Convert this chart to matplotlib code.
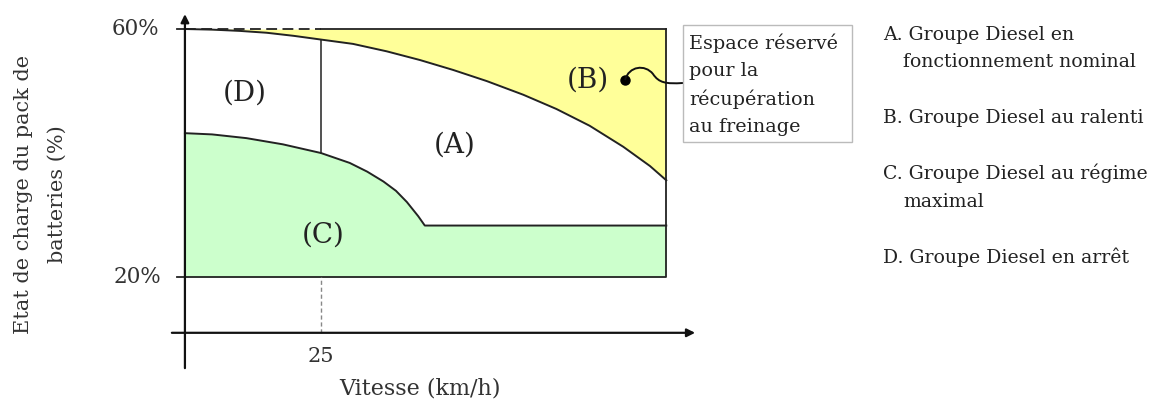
import numpy as np
import matplotlib
matplotlib.use("Agg")
import matplotlib.pyplot as plt
from matplotlib.path import Path
from matplotlib.patches import PathPatch, Rectangle

# valeurs (vitesse en km/h, etat de charge en %)
soc_max = 60
soc_min = 20
v_arret = 25
v_max = 88.5
soc_axe_x = 11

# frontiere (A)/(B) : recuperation au freinage
frein_v = [0, 5, 10, 15, 20, 25, 30.9, 37.1, 43.2, 49.3, 55.5, 62.2, 68.3, 74.4, 80.6, 85.5, 88.5]
frein_soc = [60, 59.9, 59.7, 59.4, 58.9, 58.3, 57.6, 56.4, 55.0, 53.4, 51.6, 49.4, 47.1, 44.4,
             41.0, 37.9, 35.6]

# frontiere (A)/(C) : regime maximal
maxi_v = [0, 5, 11.3, 18, 25, 30.3, 33.5, 36.5, 38.8, 40.8, 42.9, 44.1, 88.5]
maxi_soc = [43.2, 43.0, 42.4, 41.4, 40.0, 38.4, 37.0, 35.4, 33.9, 32.1, 29.8, 28.3, 28.3]

zones = ["(A)", "(B)", "(C)", "(D)"]
legende = ["A. Groupe Diesel en\nfonctionnement nominal",
           "B. Groupe Diesel au ralenti",
           "C. Groupe Diesel au régime\nmaximal",
           "D. Groupe Diesel en arrêt"]
note = "Espace réservé\npour la\nrécupération\nau freinage"

plt.rcParams['font.family'] = ['DejaVu Serif']
W, H = 1152, 401
fig = plt.figure(figsize=(W/100, H/100), dpi=100)
ax = fig.add_axes([0, 0, 1, 1])
ax.set_xlim(-34.0, 177.8)
ax.set_ylim(0, 64.68)
ax.axis('off')

def px(x, y):
    return x / W, 1 - y / H

jaune = '#ffff99'
vert = '#ccffcc'
trait = '#222222'

# zones colorees
ax.fill_between(maxi_v, soc_min, maxi_soc, color=vert, lw=0)
ax.fill_between(frein_v, frein_soc, soc_max, color=jaune, lw=0)

# cadre
ax.plot([-1.5, v_max, v_max], [soc_min, soc_min, soc_max], color=trait, lw=1.3)
ax.plot([v_arret, v_max], [soc_max, soc_max], color=trait, lw=1.3)
ax.plot([-1.5, 0.5], [soc_max, soc_max], color=trait, lw=1.3)
ax.plot([0, v_arret], [soc_max, soc_max], color=trait, lw=1.3, ls=(0, (6, 3)))

# courbes
ax.plot(frein_v, frein_soc, color=trait, lw=1.4, solid_joinstyle='round')
ax.plot(maxi_v, maxi_soc, color=trait, lw=1.4, solid_joinstyle='round')
i1 = frein_v.index(v_arret)
i2 = maxi_v.index(v_arret)
ax.plot([v_arret, v_arret], [maxi_soc[i2], frein_soc[i1]], color=trait, lw=1.1)
ax.plot([v_arret, v_arret], [soc_axe_x, soc_min], color='#888888', lw=1.0, ls=(0, (3, 2)))

# axes avec fleches
for debut, fin in [((-2.4, soc_axe_x), (93.8, soc_axe_x)), ((0, 5.3), (0, 62.4))]:
    ax.annotate('', xy=fin, xytext=debut,
                arrowprops=dict(arrowstyle='-|>', lw=1.6, color='#111111', mutation_scale=12,
                                shrinkA=0, shrinkB=0))

# etiquettes
gris = '#333333'
ax.text(-4.8, soc_max, "60%", ha='right', va='center', fontsize=15.5, color=gris)
ax.text(-4.3, soc_min, "20%", ha='right', va='center', fontsize=15.5, color=gris)
ax.text(v_arret, 7.1, "25", ha='center', va='center', fontsize=15, color=gris)
fig.text(*px(420, 388), "Vitesse (km/h)", ha='center', va='center', fontsize=16, color=gris)
fig.text(*px(24, 194), "Etat de charge du pack de", rotation=90, ha='center', va='center',
         fontsize=15, color=gris)
fig.text(*px(57, 194), "batteries (%)", rotation=90, ha='center', va='center',
         fontsize=15, color=gris)

pos_zones = [(49.6, 41.3), (74.0, 51.8), (25.4, 26.8), (11.0, 49.7)]
for nom, (x, y) in zip(zones, pos_zones):
    ax.text(x, y, nom, ha='center', va='center', fontsize=20, color=trait)

# point et liaison vers la note
ax.plot([80.9], [51.8], 'o', color='black', ms=6.5)
verts = [px(625, 80), px(629, 66), px(645, 64), px(653, 74),
         px(659, 83), px(666, 84), px(683, 83)]
codes = [Path.MOVETO] + [Path.CURVE4] * 6
fig.add_artist(PathPatch(Path(verts, codes), transform=fig.transFigure, fill=False,
                         lw=1.4, color='#111111'))

bx0, by0 = px(683, 142)
bx1, by1 = px(852, 25)
fig.add_artist(Rectangle((bx0, by0), bx1 - bx0, by1 - by0, transform=fig.transFigure,
                         fill=False, ec='#bbbbbb', lw=1.0))
for ligne, y in zip(note.split("\n"), [43, 71, 99, 127]):
    fig.text(*px(689, y), ligne, ha='left', va='center', fontsize=13.8, color=trait)

# legende
pos_leg = [(35, 62), (118,), (173, 202), (257,)]
for txt, ys in zip(legende, pos_leg):
    for k, (ligne, y) in enumerate(zip(txt.split("\n"), ys)):
        fig.text(*px(883 if k == 0 else 903, y), ligne, ha='left', va='center',
                 fontsize=13.6, color=trait)

fig.savefig("out.png", dpi=100)
